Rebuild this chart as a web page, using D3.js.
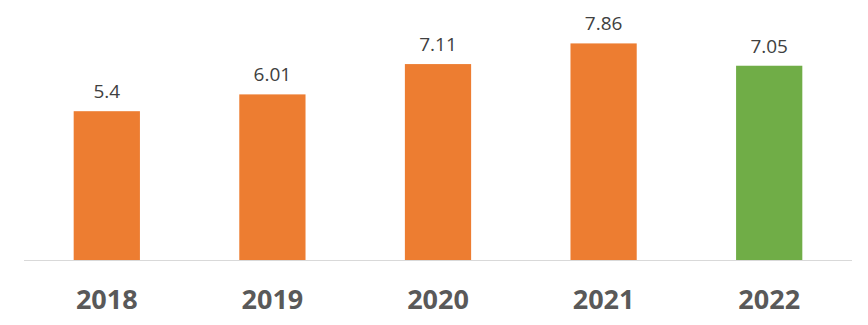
<!DOCTYPE html>
<html>
<head>
<meta charset="utf-8">
<script src="https://cdn.jsdelivr.net/npm/d3@7"></script>
<style>
  html, body { margin: 0; padding: 0; background: #fff; }
  svg { display: block; }
</style>
</head>
<body>
<svg id="chart" width="868" height="325"></svg>
<script>
// Annual values, one bar per year
const years = ["2018", "2019", "2020", "2021", "2022"];
const values = [5.4, 6.01, 7.11, 7.86, 7.05];
const barColors = ["#ED7D31", "#ED7D31", "#ED7D31", "#ED7D31", "#70AD47"];

const W = 868, H = 325;
const margin = { top: 12, right: 16, bottom: 65, left: 24 };
const svg = d3.select("#chart");

const x = d3.scaleBand()
  .domain(years)
  .range([margin.left, W - margin.right])
  .paddingInner(0.6)
  .paddingOuter(0.3);

const y = d3.scaleLinear()
  .domain([0, 9])
  .range([H - margin.bottom, margin.top]);

// Bars
svg.append("g").selectAll("rect")
  .data(years)
  .join("rect")
  .attr("x", d => x(d))
  .attr("width", x.bandwidth())
  .attr("y", (d, i) => y(values[i]))
  .attr("height", (d, i) => y(0) - y(values[i]))
  .attr("fill", (d, i) => barColors[i]);

// Category axis along the baseline
const xAxis = svg.append("g")
  .attr("transform", `translate(0,${y(0)})`)
  .call(d3.axisBottom(x).tickSize(0).tickPadding(30));
xAxis.select(".domain")
  .attr("stroke", "#D9D9D9")
  .attr("stroke-width", 1)
  .attr("d", `M${margin.left},0.5H${W - margin.right}`);
xAxis.selectAll("text")
  .attr("font-family", "'Open Sans', sans-serif")
  .attr("font-weight", "bold")
  .attr("font-size", 27)
  .attr("fill", "#595959");

// Value labels above each bar
svg.append("g").selectAll("text")
  .data(years)
  .join("text")
  .attr("x", d => x(d) + x.bandwidth() / 2)
  .attr("y", (d, i) => y(values[i]) - 13)
  .attr("text-anchor", "middle")
  .attr("font-family", "'Open Sans', sans-serif")
  .attr("font-size", 19)
  .attr("fill", "#404040")
  .text((d, i) => values[i]);
</script>
</body>
</html>
